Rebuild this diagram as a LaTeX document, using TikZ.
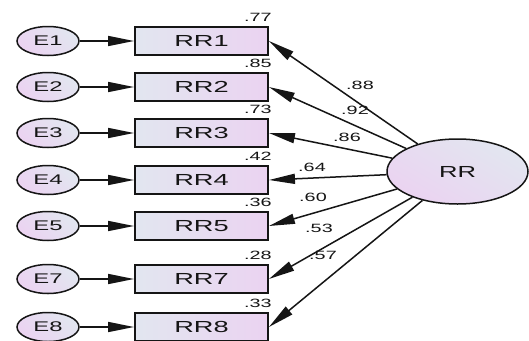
\documentclass[tikz,border=0pt]{standalone}
\usepackage{fontspec}
\usepackage{graphicx}
\setmainfont{Liberation Sans}
\usetikzlibrary{shapes.geometric,arrows.meta}
\definecolor{fillL}{HTML}{E2E6F0}
\definecolor{fillR}{HTML}{EBD3F1}
\definecolor{ink}{HTML}{151515}
\newcommand{\wtxt}[2][1.7]{\scalebox{#1}[1]{#2}}
\begin{document}
\begin{tikzpicture}[x=1pt,y=-1pt,
  errnode/.style={ellipse,draw=ink,line width=1.5pt,minimum width=62pt,minimum height=29pt,inner sep=0pt,
    left color=fillL,right color=fillR,shading angle=-45,font=\fontsize{14}{16}\selectfont,text=ink},
  obsbox/.style={rectangle,draw=ink,line width=1.9pt,minimum width=133pt,minimum height=28pt,inner sep=0pt,
    left color=fillL,right color=fillR,font=\fontsize{16}{18}\selectfont,text=ink},
  latent/.style={ellipse,draw=ink,line width=1.5pt,minimum width=141pt,minimum height=65pt,inner sep=0pt,
    left color=fillL,right color=fillR,shading angle=-30,font=\fontsize{16}{18}\selectfont,text=ink},
  arr/.style={draw=ink,line width=1.5pt,-{Triangle[length=26pt,width=10pt]}},
  vlab/.style={font=\fontsize{12}{14}\selectfont,text=ink,inner sep=0pt},
  llab/.style={font=\fontsize{12}{14}\selectfont,text=ink,inner sep=0pt}
]
\useasboundingbox (0,0) rectangle (529,340);
\fill[white] (0,0) rectangle (529,340);

\node[latent] (RR) at (457.5,171.5) {\wtxt[1.6]{RR}};

\foreach \i/\y/\v in {1/41/77,2/87/85,3/133/73,4/180/42,5/226/36,7/279/28,8/327/33}{
  \node[errnode] (E\i) at (48,\y) {\wtxt{E\i}};
  \node[obsbox] (RR\i) at (201.5,\y) {\wtxt{RR\i}};
  \node[vlab,anchor=south east] (V\i) at ([xshift=3pt,yshift=4pt]RR\i.north east) {\wtxt[1.65]{.\v}};
  \draw[arr] (E\i) -- (RR\i);
  \draw[arr] (RR) -- (RR\i.east);
}

\node[llab] (L1) at (360,85) {\wtxt[1.65]{.88}};
\node[llab] (L2) at (355,110) {\wtxt[1.65]{.92}};
\node[llab] (L3) at (347,137) {\wtxt[1.65]{.86}};
\node[llab] (L4) at (312,167) {\wtxt[1.65]{.64}};
\node[llab] (L5) at (313,197) {\wtxt[1.65]{.60}};
\node[llab] (L7) at (319,228) {\wtxt[1.65]{.53}};
\node[llab] (L8) at (323,255) {\wtxt[1.65]{.57}};
\end{tikzpicture}
\end{document}
